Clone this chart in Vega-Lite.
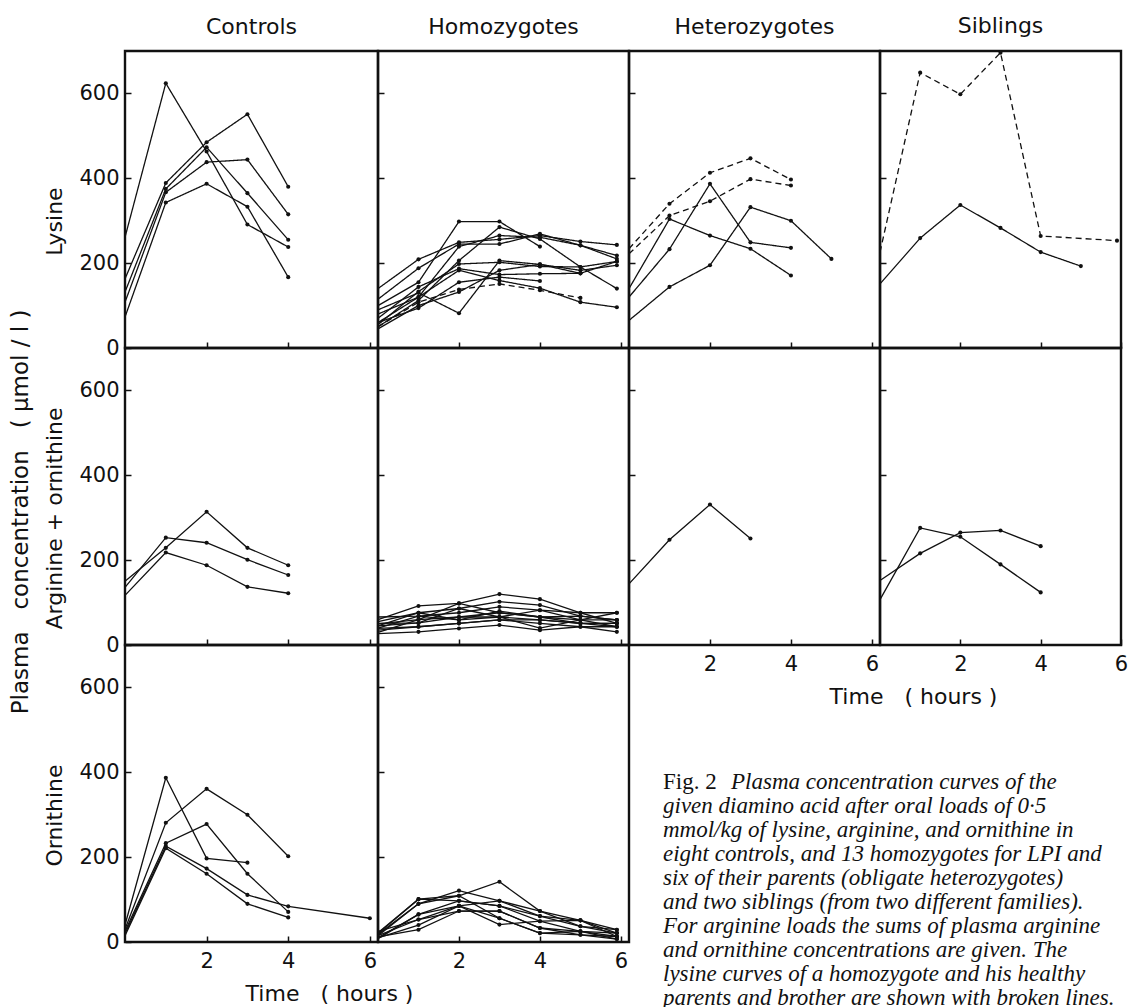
{
  "$schema": "https://vega.github.io/schema/vega-lite/v6.json",
  "background": "white",
  "padding": {"left": 9, "top": 13, "right": 0, "bottom": 0},
  "title": {"text": "Plasma\u00a0\u00a0\u00a0concentration\u00a0\u00a0\u00a0(\u00a0μmol\u00a0/\u00a0l\u00a0)", "orient": "left", "anchor": "middle", "fontSize": 23, "fontWeight": "normal", "font": "DejaVu Sans", "color": "#111", "offset": 10},
  "config": {
    "font": "DejaVu Sans",
    "view": {"stroke": "#111", "strokeWidth": 2.4},
    "title": {"fontSize": 22, "fontWeight": "normal", "color": "#111", "offset": 12},
    "axis": {"domain": false, "grid": false, "ticks": true, "tickColor": "#111", "tickWidth": 1.5, "tickSize": -6, "labelFontSize": 21, "labelColor": "#111", "labelFlush": false, "labelOverlap": false, "titleFontSize": 22, "titleFontWeight": "normal", "titleColor": "#111"},
    "axisX": {"labelPadding": 14, "titlePadding": 12},
    "axisY": {"labelPadding": 12, "titlePadding": 12}
  },
  "datasets": {
    "pts": [
      {"panel":"CL","id":"C1","dash":"solid","hour":0,"value":261},{"panel":"CL","id":"C1","dash":"solid","hour":1,"value":624},{"panel":"CL","id":"C1","dash":"solid","hour":2,"value":463},{"panel":"CL","id":"C1","dash":"solid","hour":3,"value":291},{"panel":"CL","id":"C1","dash":"solid","hour":4,"value":238},
      {"panel":"CL","id":"C2","dash":"solid","hour":0,"value":163},{"panel":"CL","id":"C2","dash":"solid","hour":1,"value":389},{"panel":"CL","id":"C2","dash":"solid","hour":2,"value":485},{"panel":"CL","id":"C2","dash":"solid","hour":3,"value":551},{"panel":"CL","id":"C2","dash":"solid","hour":4,"value":380},
      {"panel":"CL","id":"C3","dash":"solid","hour":0,"value":132},{"panel":"CL","id":"C3","dash":"solid","hour":1,"value":375},{"panel":"CL","id":"C3","dash":"solid","hour":2,"value":473},{"panel":"CL","id":"C3","dash":"solid","hour":3,"value":365},{"panel":"CL","id":"C3","dash":"solid","hour":4,"value":255},
      {"panel":"CL","id":"C4","dash":"solid","hour":0,"value":108},{"panel":"CL","id":"C4","dash":"solid","hour":1,"value":367},{"panel":"CL","id":"C4","dash":"solid","hour":2,"value":438},{"panel":"CL","id":"C4","dash":"solid","hour":3,"value":444},{"panel":"CL","id":"C4","dash":"solid","hour":4,"value":315},
      {"panel":"CL","id":"C5","dash":"solid","hour":0,"value":73},{"panel":"CL","id":"C5","dash":"solid","hour":1,"value":343},{"panel":"CL","id":"C5","dash":"solid","hour":2,"value":387},{"panel":"CL","id":"C5","dash":"solid","hour":3,"value":333},{"panel":"CL","id":"C5","dash":"solid","hour":4,"value":167},

      {"panel":"HL","id":"H1","dash":"solid","hour":0,"value":140},{"panel":"HL","id":"H1","dash":"solid","hour":1,"value":209},{"panel":"HL","id":"H1","dash":"solid","hour":2,"value":249},{"panel":"HL","id":"H1","dash":"solid","hour":3,"value":256},{"panel":"HL","id":"H1","dash":"solid","hour":4,"value":265},{"panel":"HL","id":"H1","dash":"solid","hour":5,"value":251},{"panel":"HL","id":"H1","dash":"solid","hour":5.9,"value":243},
      {"panel":"HL","id":"H2","dash":"solid","hour":0,"value":115},{"panel":"HL","id":"H2","dash":"solid","hour":1,"value":188},{"panel":"HL","id":"H2","dash":"solid","hour":2,"value":245},{"panel":"HL","id":"H2","dash":"solid","hour":3,"value":245},{"panel":"HL","id":"H2","dash":"solid","hour":4,"value":269},{"panel":"HL","id":"H2","dash":"solid","hour":5,"value":242},{"panel":"HL","id":"H2","dash":"solid","hour":5.9,"value":210},
      {"panel":"HL","id":"H3","dash":"solid","hour":0,"value":100},{"panel":"HL","id":"H3","dash":"solid","hour":1,"value":155},{"panel":"HL","id":"H3","dash":"solid","hour":2,"value":298},{"panel":"HL","id":"H3","dash":"solid","hour":3,"value":298},{"panel":"HL","id":"H3","dash":"solid","hour":4,"value":239},
      {"panel":"HL","id":"H4","dash":"solid","hour":0,"value":60},{"panel":"HL","id":"H4","dash":"solid","hour":1,"value":120},{"panel":"HL","id":"H4","dash":"solid","hour":2,"value":239},{"panel":"HL","id":"H4","dash":"solid","hour":3,"value":265},{"panel":"HL","id":"H4","dash":"solid","hour":4,"value":261},{"panel":"HL","id":"H4","dash":"solid","hour":5,"value":242},{"panel":"HL","id":"H4","dash":"solid","hour":5.9,"value":218},
      {"panel":"HL","id":"H5","dash":"solid","hour":0,"value":50},{"panel":"HL","id":"H5","dash":"solid","hour":1,"value":112},{"panel":"HL","id":"H5","dash":"solid","hour":2,"value":206},{"panel":"HL","id":"H5","dash":"solid","hour":3,"value":285},{"panel":"HL","id":"H5","dash":"solid","hour":4,"value":257},{"panel":"HL","id":"H5","dash":"solid","hour":5,"value":191},{"panel":"HL","id":"H5","dash":"solid","hour":5.9,"value":140},
      {"panel":"HL","id":"H6","dash":"solid","hour":0,"value":90},{"panel":"HL","id":"H6","dash":"solid","hour":1,"value":130},{"panel":"HL","id":"H6","dash":"solid","hour":2,"value":82},{"panel":"HL","id":"H6","dash":"solid","hour":3,"value":206},{"panel":"HL","id":"H6","dash":"solid","hour":4,"value":197},{"panel":"HL","id":"H6","dash":"solid","hour":5,"value":183},{"panel":"HL","id":"H6","dash":"solid","hour":5.9,"value":195},
      {"panel":"HL","id":"H7","dash":"solid","hour":0,"value":55},{"panel":"HL","id":"H7","dash":"solid","hour":1,"value":133},{"panel":"HL","id":"H7","dash":"solid","hour":2,"value":198},{"panel":"HL","id":"H7","dash":"solid","hour":3,"value":202},{"panel":"HL","id":"H7","dash":"solid","hour":4,"value":192},{"panel":"HL","id":"H7","dash":"solid","hour":5,"value":191},{"panel":"HL","id":"H7","dash":"solid","hour":5.9,"value":204},
      {"panel":"HL","id":"H8","dash":"solid","hour":0,"value":70},{"panel":"HL","id":"H8","dash":"solid","hour":1,"value":144},{"panel":"HL","id":"H8","dash":"solid","hour":2,"value":187},{"panel":"HL","id":"H8","dash":"solid","hour":3,"value":173},{"panel":"HL","id":"H8","dash":"solid","hour":4,"value":175},{"panel":"HL","id":"H8","dash":"solid","hour":5,"value":176},
      {"panel":"HL","id":"H9","dash":"solid","hour":0,"value":80},{"panel":"HL","id":"H9","dash":"solid","hour":1,"value":120},{"panel":"HL","id":"H9","dash":"solid","hour":2,"value":183},{"panel":"HL","id":"H9","dash":"solid","hour":3,"value":159},{"panel":"HL","id":"H9","dash":"solid","hour":4,"value":141},{"panel":"HL","id":"H9","dash":"solid","hour":5,"value":108},{"panel":"HL","id":"H9","dash":"solid","hour":5.9,"value":96},
      {"panel":"HL","id":"H10","dash":"solid","hour":0,"value":60},{"panel":"HL","id":"H10","dash":"solid","hour":1,"value":94},{"panel":"HL","id":"H10","dash":"solid","hour":2,"value":155},{"panel":"HL","id":"H10","dash":"solid","hour":3,"value":167},{"panel":"HL","id":"H10","dash":"solid","hour":4,"value":158},
      {"panel":"HL","id":"H11","dash":"broken","hour":0,"value":50},{"panel":"HL","id":"H11","dash":"broken","hour":1,"value":108},{"panel":"HL","id":"H11","dash":"broken","hour":2,"value":138},{"panel":"HL","id":"H11","dash":"broken","hour":3,"value":151},{"panel":"HL","id":"H11","dash":"broken","hour":4,"value":136},{"panel":"HL","id":"H11","dash":"broken","hour":5,"value":118},
      {"panel":"HL","id":"H12","dash":"solid","hour":0,"value":45},{"panel":"HL","id":"H12","dash":"solid","hour":1,"value":100},{"panel":"HL","id":"H12","dash":"solid","hour":2,"value":132},{"panel":"HL","id":"H12","dash":"solid","hour":3,"value":183},{"panel":"HL","id":"H12","dash":"solid","hour":4,"value":197},{"panel":"HL","id":"H12","dash":"solid","hour":5,"value":176},{"panel":"HL","id":"H12","dash":"solid","hour":5.9,"value":204},

      {"panel":"EL","id":"E1","dash":"broken","hour":0,"value":234},{"panel":"EL","id":"E1","dash":"broken","hour":1,"value":340},{"panel":"EL","id":"E1","dash":"broken","hour":2,"value":413},{"panel":"EL","id":"E1","dash":"broken","hour":3,"value":447},{"panel":"EL","id":"E1","dash":"broken","hour":4,"value":397},
      {"panel":"EL","id":"E2","dash":"broken","hour":0,"value":222},{"panel":"EL","id":"E2","dash":"broken","hour":1,"value":312},{"panel":"EL","id":"E2","dash":"broken","hour":2,"value":346},{"panel":"EL","id":"E2","dash":"broken","hour":3,"value":398},{"panel":"EL","id":"E2","dash":"broken","hour":4,"value":383},
      {"panel":"EL","id":"E3","dash":"solid","hour":0,"value":140},{"panel":"EL","id":"E3","dash":"solid","hour":1,"value":304},{"panel":"EL","id":"E3","dash":"solid","hour":2,"value":265},{"panel":"EL","id":"E3","dash":"solid","hour":3,"value":234},{"panel":"EL","id":"E3","dash":"solid","hour":4,"value":171},
      {"panel":"EL","id":"E4","dash":"solid","hour":0,"value":120},{"panel":"EL","id":"E4","dash":"solid","hour":1,"value":233},{"panel":"EL","id":"E4","dash":"solid","hour":2,"value":387},{"panel":"EL","id":"E4","dash":"solid","hour":3,"value":249},{"panel":"EL","id":"E4","dash":"solid","hour":4,"value":236},
      {"panel":"EL","id":"E5","dash":"solid","hour":0,"value":65},{"panel":"EL","id":"E5","dash":"solid","hour":1,"value":144},{"panel":"EL","id":"E5","dash":"solid","hour":2,"value":195},{"panel":"EL","id":"E5","dash":"solid","hour":3,"value":332},{"panel":"EL","id":"E5","dash":"solid","hour":4,"value":300},{"panel":"EL","id":"E5","dash":"solid","hour":5,"value":210},

      {"panel":"SL","id":"S1","dash":"broken","hour":0,"value":226},{"panel":"SL","id":"S1","dash":"broken","hour":1,"value":649},{"panel":"SL","id":"S1","dash":"broken","hour":2,"value":598},{"panel":"SL","id":"S1","dash":"broken","hour":3,"value":696},{"panel":"SL","id":"S1","dash":"broken","hour":4,"value":264},{"panel":"SL","id":"S1","dash":"broken","hour":5.9,"value":253},
      {"panel":"SL","id":"S2","dash":"solid","hour":0,"value":151},{"panel":"SL","id":"S2","dash":"solid","hour":1,"value":259},{"panel":"SL","id":"S2","dash":"solid","hour":2,"value":337},{"panel":"SL","id":"S2","dash":"solid","hour":3,"value":283},{"panel":"SL","id":"S2","dash":"solid","hour":4,"value":226},{"panel":"SL","id":"S2","dash":"solid","hour":5,"value":193},

      {"panel":"CA","id":"A1","dash":"solid","hour":0,"value":150},{"panel":"CA","id":"A1","dash":"solid","hour":1,"value":229},{"panel":"CA","id":"A1","dash":"solid","hour":2,"value":314},{"panel":"CA","id":"A1","dash":"solid","hour":3,"value":229},{"panel":"CA","id":"A1","dash":"solid","hour":4,"value":188},
      {"panel":"CA","id":"A2","dash":"solid","hour":0,"value":136},{"panel":"CA","id":"A2","dash":"solid","hour":1,"value":253},{"panel":"CA","id":"A2","dash":"solid","hour":2,"value":241},{"panel":"CA","id":"A2","dash":"solid","hour":3,"value":201},{"panel":"CA","id":"A2","dash":"solid","hour":4,"value":165},
      {"panel":"CA","id":"A3","dash":"solid","hour":0,"value":117},{"panel":"CA","id":"A3","dash":"solid","hour":1,"value":218},{"panel":"CA","id":"A3","dash":"solid","hour":2,"value":188},{"panel":"CA","id":"A3","dash":"solid","hour":3,"value":137},{"panel":"CA","id":"A3","dash":"solid","hour":4,"value":122},

      {"panel":"HA","id":"B1","dash":"solid","hour":0,"value":60},{"panel":"HA","id":"B1","dash":"solid","hour":1,"value":92},{"panel":"HA","id":"B1","dash":"solid","hour":2,"value":98},{"panel":"HA","id":"B1","dash":"solid","hour":3,"value":120},{"panel":"HA","id":"B1","dash":"solid","hour":4,"value":108},{"panel":"HA","id":"B1","dash":"solid","hour":5,"value":76},{"panel":"HA","id":"B1","dash":"solid","hour":5.9,"value":76},
      {"panel":"HA","id":"B2","dash":"solid","hour":0,"value":55},{"panel":"HA","id":"B2","dash":"solid","hour":1,"value":76},{"panel":"HA","id":"B2","dash":"solid","hour":2,"value":86},{"panel":"HA","id":"B2","dash":"solid","hour":3,"value":102},{"panel":"HA","id":"B2","dash":"solid","hour":4,"value":94},{"panel":"HA","id":"B2","dash":"solid","hour":5,"value":68},{"panel":"HA","id":"B2","dash":"solid","hour":5.9,"value":59},
      {"panel":"HA","id":"B3","dash":"solid","hour":0,"value":66},{"panel":"HA","id":"B3","dash":"solid","hour":1,"value":68},{"panel":"HA","id":"B3","dash":"solid","hour":2,"value":76},{"panel":"HA","id":"B3","dash":"solid","hour":3,"value":90},{"panel":"HA","id":"B3","dash":"solid","hour":4,"value":82},{"panel":"HA","id":"B3","dash":"solid","hour":5,"value":76},{"panel":"HA","id":"B3","dash":"solid","hour":5.9,"value":51},
      {"panel":"HA","id":"B4","dash":"solid","hour":0,"value":50},{"panel":"HA","id":"B4","dash":"solid","hour":1,"value":60},{"panel":"HA","id":"B4","dash":"solid","hour":2,"value":98},{"panel":"HA","id":"B4","dash":"solid","hour":3,"value":76},{"panel":"HA","id":"B4","dash":"solid","hour":4,"value":66},{"panel":"HA","id":"B4","dash":"solid","hour":5,"value":59},{"panel":"HA","id":"B4","dash":"solid","hour":5.9,"value":76},
      {"panel":"HA","id":"B5","dash":"solid","hour":0,"value":45},{"panel":"HA","id":"B5","dash":"solid","hour":1,"value":52},{"panel":"HA","id":"B5","dash":"solid","hour":2,"value":66},{"panel":"HA","id":"B5","dash":"solid","hour":3,"value":66},{"panel":"HA","id":"B5","dash":"solid","hour":4,"value":59},{"panel":"HA","id":"B5","dash":"solid","hour":5,"value":51},{"panel":"HA","id":"B5","dash":"solid","hour":5.9,"value":43},
      {"panel":"HA","id":"B6","dash":"solid","hour":0,"value":40},{"panel":"HA","id":"B6","dash":"solid","hour":1,"value":68},{"panel":"HA","id":"B6","dash":"solid","hour":2,"value":59},{"panel":"HA","id":"B6","dash":"solid","hour":3,"value":80},{"panel":"HA","id":"B6","dash":"solid","hour":4,"value":66},{"panel":"HA","id":"B6","dash":"solid","hour":5,"value":68},{"panel":"HA","id":"B6","dash":"solid","hour":5.9,"value":59},
      {"panel":"HA","id":"B7","dash":"solid","hour":0,"value":35},{"panel":"HA","id":"B7","dash":"solid","hour":1,"value":43},{"panel":"HA","id":"B7","dash":"solid","hour":2,"value":51},{"panel":"HA","id":"B7","dash":"solid","hour":3,"value":59},{"panel":"HA","id":"B7","dash":"solid","hour":4,"value":51},{"panel":"HA","id":"B7","dash":"solid","hour":5,"value":43},{"panel":"HA","id":"B7","dash":"solid","hour":5.9,"value":43},
      {"panel":"HA","id":"B8","dash":"solid","hour":0,"value":30},{"panel":"HA","id":"B8","dash":"solid","hour":1,"value":60},{"panel":"HA","id":"B8","dash":"solid","hour":2,"value":66},{"panel":"HA","id":"B8","dash":"solid","hour":3,"value":76},{"panel":"HA","id":"B8","dash":"solid","hour":4,"value":66},{"panel":"HA","id":"B8","dash":"solid","hour":5,"value":51},{"panel":"HA","id":"B8","dash":"solid","hour":5.9,"value":51},
      {"panel":"HA","id":"B9","dash":"solid","hour":0,"value":27},{"panel":"HA","id":"B9","dash":"solid","hour":1,"value":31},{"panel":"HA","id":"B9","dash":"solid","hour":2,"value":39},{"panel":"HA","id":"B9","dash":"solid","hour":3,"value":47},{"panel":"HA","id":"B9","dash":"solid","hour":4,"value":35},{"panel":"HA","id":"B9","dash":"solid","hour":5,"value":43},{"panel":"HA","id":"B9","dash":"solid","hour":5.9,"value":31},
      {"panel":"HA","id":"B10","dash":"solid","hour":0,"value":51},{"panel":"HA","id":"B10","dash":"solid","hour":1,"value":52},{"panel":"HA","id":"B10","dash":"solid","hour":2,"value":86},{"panel":"HA","id":"B10","dash":"solid","hour":3,"value":66},{"panel":"HA","id":"B10","dash":"solid","hour":4,"value":82},{"panel":"HA","id":"B10","dash":"solid","hour":5,"value":59},{"panel":"HA","id":"B10","dash":"solid","hour":5.9,"value":43},
      {"panel":"HA","id":"B11","dash":"solid","hour":0,"value":39},{"panel":"HA","id":"B11","dash":"solid","hour":1,"value":43},{"panel":"HA","id":"B11","dash":"solid","hour":2,"value":51},{"panel":"HA","id":"B11","dash":"solid","hour":3,"value":59},{"panel":"HA","id":"B11","dash":"solid","hour":4,"value":59},{"panel":"HA","id":"B11","dash":"solid","hour":5,"value":51},{"panel":"HA","id":"B11","dash":"solid","hour":5.9,"value":51},
      {"panel":"HA","id":"B12","dash":"solid","hour":0,"value":45},{"panel":"HA","id":"B12","dash":"solid","hour":1,"value":76},{"panel":"HA","id":"B12","dash":"solid","hour":2,"value":59},{"panel":"HA","id":"B12","dash":"solid","hour":3,"value":66},{"panel":"HA","id":"B12","dash":"solid","hour":4,"value":40},{"panel":"HA","id":"B12","dash":"solid","hour":5,"value":59},{"panel":"HA","id":"B12","dash":"solid","hour":5.9,"value":59},

      {"panel":"EA","id":"F1","dash":"solid","hour":0,"value":144},{"panel":"EA","id":"F1","dash":"solid","hour":1,"value":248},{"panel":"EA","id":"F1","dash":"solid","hour":2,"value":331},{"panel":"EA","id":"F1","dash":"solid","hour":3,"value":251},

      {"panel":"SA","id":"G1","dash":"solid","hour":0,"value":152},{"panel":"SA","id":"G1","dash":"solid","hour":1,"value":216},{"panel":"SA","id":"G1","dash":"solid","hour":2,"value":265},{"panel":"SA","id":"G1","dash":"solid","hour":3,"value":270},{"panel":"SA","id":"G1","dash":"solid","hour":4,"value":233},
      {"panel":"SA","id":"G2","dash":"solid","hour":0,"value":107},{"panel":"SA","id":"G2","dash":"solid","hour":1,"value":276},{"panel":"SA","id":"G2","dash":"solid","hour":2,"value":255},{"panel":"SA","id":"G2","dash":"solid","hour":3,"value":190},{"panel":"SA","id":"G2","dash":"solid","hour":4,"value":124},

      {"panel":"CO","id":"K1","dash":"solid","hour":0,"value":40},{"panel":"CO","id":"K1","dash":"solid","hour":1,"value":387},{"panel":"CO","id":"K1","dash":"solid","hour":2,"value":197},{"panel":"CO","id":"K1","dash":"solid","hour":3,"value":187},
      {"panel":"CO","id":"K2","dash":"solid","hour":0,"value":30},{"panel":"CO","id":"K2","dash":"solid","hour":1,"value":281},{"panel":"CO","id":"K2","dash":"solid","hour":2,"value":361},{"panel":"CO","id":"K2","dash":"solid","hour":3,"value":300},{"panel":"CO","id":"K2","dash":"solid","hour":4,"value":202},
      {"panel":"CO","id":"K3","dash":"solid","hour":0,"value":25},{"panel":"CO","id":"K3","dash":"solid","hour":1,"value":233},{"panel":"CO","id":"K3","dash":"solid","hour":2,"value":278},{"panel":"CO","id":"K3","dash":"solid","hour":3,"value":161},{"panel":"CO","id":"K3","dash":"solid","hour":4,"value":71},
      {"panel":"CO","id":"K4","dash":"solid","hour":0,"value":20},{"panel":"CO","id":"K4","dash":"solid","hour":1,"value":226},{"panel":"CO","id":"K4","dash":"solid","hour":2,"value":173},{"panel":"CO","id":"K4","dash":"solid","hour":3,"value":111},{"panel":"CO","id":"K4","dash":"solid","hour":4,"value":84},{"panel":"CO","id":"K4","dash":"solid","hour":6,"value":56},
      {"panel":"CO","id":"K5","dash":"solid","hour":0,"value":15},{"panel":"CO","id":"K5","dash":"solid","hour":1,"value":221},{"panel":"CO","id":"K5","dash":"solid","hour":2,"value":161},{"panel":"CO","id":"K5","dash":"solid","hour":3,"value":90},{"panel":"CO","id":"K5","dash":"solid","hour":4,"value":58},

      {"panel":"HO","id":"M1","dash":"solid","hour":0,"value":20},{"panel":"HO","id":"M1","dash":"solid","hour":1,"value":101},{"panel":"HO","id":"M1","dash":"solid","hour":2,"value":109},{"panel":"HO","id":"M1","dash":"solid","hour":3,"value":142},{"panel":"HO","id":"M1","dash":"solid","hour":4,"value":73},{"panel":"HO","id":"M1","dash":"solid","hour":5,"value":51},{"panel":"HO","id":"M1","dash":"solid","hour":5.9,"value":29},
      {"panel":"HO","id":"M2","dash":"solid","hour":0,"value":15},{"panel":"HO","id":"M2","dash":"solid","hour":1,"value":90},{"panel":"HO","id":"M2","dash":"solid","hour":2,"value":121},{"panel":"HO","id":"M2","dash":"solid","hour":3,"value":97},{"panel":"HO","id":"M2","dash":"solid","hour":4,"value":61},{"panel":"HO","id":"M2","dash":"solid","hour":5,"value":37},{"panel":"HO","id":"M2","dash":"solid","hour":5.9,"value":21},
      {"panel":"HO","id":"M3","dash":"solid","hour":0,"value":10},{"panel":"HO","id":"M3","dash":"solid","hour":1,"value":65},{"panel":"HO","id":"M3","dash":"solid","hour":2,"value":97},{"panel":"HO","id":"M3","dash":"solid","hour":3,"value":85},{"panel":"HO","id":"M3","dash":"solid","hour":4,"value":49},{"panel":"HO","id":"M3","dash":"solid","hour":5,"value":51},{"panel":"HO","id":"M3","dash":"solid","hour":5.9,"value":13},
      {"panel":"HO","id":"M4","dash":"solid","hour":0,"value":25},{"panel":"HO","id":"M4","dash":"solid","hour":1,"value":53},{"panel":"HO","id":"M4","dash":"solid","hour":2,"value":85},{"panel":"HO","id":"M4","dash":"solid","hour":3,"value":97},{"panel":"HO","id":"M4","dash":"solid","hour":4,"value":73},{"panel":"HO","id":"M4","dash":"solid","hour":5,"value":37},{"panel":"HO","id":"M4","dash":"solid","hour":5.9,"value":29},
      {"panel":"HO","id":"M5","dash":"solid","hour":0,"value":12},{"panel":"HO","id":"M5","dash":"solid","hour":1,"value":29},{"panel":"HO","id":"M5","dash":"solid","hour":2,"value":73},{"panel":"HO","id":"M5","dash":"solid","hour":3,"value":73},{"panel":"HO","id":"M5","dash":"solid","hour":4,"value":33},{"panel":"HO","id":"M5","dash":"solid","hour":5,"value":25},{"panel":"HO","id":"M5","dash":"solid","hour":5.9,"value":7},
      {"panel":"HO","id":"M6","dash":"solid","hour":0,"value":18},{"panel":"HO","id":"M6","dash":"solid","hour":1,"value":90},{"panel":"HO","id":"M6","dash":"solid","hour":2,"value":109},{"panel":"HO","id":"M6","dash":"solid","hour":3,"value":56},{"panel":"HO","id":"M6","dash":"solid","hour":4,"value":21},{"panel":"HO","id":"M6","dash":"solid","hour":5,"value":17},{"panel":"HO","id":"M6","dash":"solid","hour":5.9,"value":13},
      {"panel":"HO","id":"M7","dash":"solid","hour":0,"value":8},{"panel":"HO","id":"M7","dash":"solid","hour":1,"value":65},{"panel":"HO","id":"M7","dash":"solid","hour":2,"value":85},{"panel":"HO","id":"M7","dash":"solid","hour":3,"value":41},{"panel":"HO","id":"M7","dash":"solid","hour":4,"value":49},{"panel":"HO","id":"M7","dash":"solid","hour":5,"value":25},{"panel":"HO","id":"M7","dash":"solid","hour":5.9,"value":21},
      {"panel":"HO","id":"M8","dash":"solid","hour":0,"value":22},{"panel":"HO","id":"M8","dash":"solid","hour":1,"value":101},{"panel":"HO","id":"M8","dash":"solid","hour":2,"value":97},{"panel":"HO","id":"M8","dash":"solid","hour":3,"value":85},{"panel":"HO","id":"M8","dash":"solid","hour":4,"value":61},{"panel":"HO","id":"M8","dash":"solid","hour":5,"value":51},{"panel":"HO","id":"M8","dash":"solid","hour":5.9,"value":21},
      {"panel":"HO","id":"M9","dash":"solid","hour":0,"value":15},{"panel":"HO","id":"M9","dash":"solid","hour":1,"value":53},{"panel":"HO","id":"M9","dash":"solid","hour":2,"value":73},{"panel":"HO","id":"M9","dash":"solid","hour":3,"value":73},{"panel":"HO","id":"M9","dash":"solid","hour":4,"value":33},{"panel":"HO","id":"M9","dash":"solid","hour":5,"value":17},{"panel":"HO","id":"M9","dash":"solid","hour":5.9,"value":7},
      {"panel":"HO","id":"M10","dash":"solid","hour":0,"value":10},{"panel":"HO","id":"M10","dash":"solid","hour":1,"value":40},{"panel":"HO","id":"M10","dash":"solid","hour":2,"value":85},{"panel":"HO","id":"M10","dash":"solid","hour":3,"value":56},{"panel":"HO","id":"M10","dash":"solid","hour":4,"value":21},{"panel":"HO","id":"M10","dash":"solid","hour":5,"value":25},{"panel":"HO","id":"M10","dash":"solid","hour":5.9,"value":13}
    ],
    "caption": [
      {"line": 1, "part": "label", "text": "Fig. 2"},
      {"line": 1, "part": "body", "text": "Plasma concentration curves of the"},
      {"line": 2, "part": "body", "text": "given diamino acid after oral loads of 0·5"},
      {"line": 3, "part": "body", "text": "mmol/kg of lysine, arginine, and ornithine in"},
      {"line": 4, "part": "body", "text": "eight controls, and 13 homozygotes for LPI and"},
      {"line": 5, "part": "body", "text": "six of their parents (obligate heterozygotes)"},
      {"line": 6, "part": "body", "text": "and two siblings (from two different families)."},
      {"line": 7, "part": "body", "text": "For arginine loads the sums of plasma arginine"},
      {"line": 8, "part": "body", "text": "and ornithine concentrations are given. The"},
      {"line": 9, "part": "body", "text": "lysine curves of a homozygote and his healthy"},
      {"line": 10, "part": "body", "text": "parents and brother are shown with broken lines."}
    ]
  },
  "data": {"name": "pts"},
  "columns": 4,
  "spacing": 0,
  "bounds": "flush",
  "concat": [
    {"width": 253, "height": 297, "title": "Controls", "transform": [{"filter": "datum.panel === 'CL'"}],
     "encoding": {"x": {"field": "hour", "type": "quantitative", "scale": {"domain": [0, 6.2], "nice": false}, "axis": {"values": [2, 4, 6], "labels": false, "title": null}},
                  "y": {"field": "value", "type": "quantitative", "scale": {"domain": [0, 700], "nice": false}, "axis": {"values": [0, 200, 400, 600], "title": "Lysine", "titleY": 170}}},
     "layer": [
       {"mark": {"type": "line", "color": "#111", "strokeWidth": 1.3}, "encoding": {"detail": {"field": "id"}, "strokeDash": {"field": "dash", "type": "nominal", "scale": {"domain": ["solid", "broken"], "range": [[1, 0], [6, 4]]}, "legend": null}}},
       {"transform": [{"filter": "datum.hour > 0"}], "mark": {"type": "circle", "color": "#111", "size": 17, "opacity": 1}}
     ]},
    {"width": 251, "height": 297, "title": "Homozygotes", "transform": [{"filter": "datum.panel === 'HL'"}],
     "encoding": {"x": {"field": "hour", "type": "quantitative", "scale": {"domain": [0, 6.2], "nice": false}, "axis": {"values": [2, 4, 6], "labels": false, "title": null}},
                  "y": {"field": "value", "type": "quantitative", "scale": {"domain": [0, 700], "nice": false}, "axis": {"values": [200, 400, 600], "labels": false, "title": null}}},
     "layer": [
       {"mark": {"type": "line", "color": "#111", "strokeWidth": 1.3}, "encoding": {"detail": {"field": "id"}, "strokeDash": {"field": "dash", "type": "nominal", "scale": {"domain": ["solid", "broken"], "range": [[1, 0], [6, 4]]}, "legend": null}}},
       {"transform": [{"filter": "datum.hour > 0"}], "mark": {"type": "circle", "color": "#111", "size": 17, "opacity": 1}}
     ]},
    {"width": 251, "height": 297, "title": "Heterozygotes", "transform": [{"filter": "datum.panel === 'EL'"}],
     "encoding": {"x": {"field": "hour", "type": "quantitative", "scale": {"domain": [0, 6.2], "nice": false}, "axis": {"values": [2, 4, 6], "labels": false, "title": null}},
                  "y": {"field": "value", "type": "quantitative", "scale": {"domain": [0, 700], "nice": false}, "axis": {"values": [200, 400, 600], "labels": false, "title": null}}},
     "layer": [
       {"mark": {"type": "line", "color": "#111", "strokeWidth": 1.3}, "encoding": {"detail": {"field": "id"}, "strokeDash": {"field": "dash", "type": "nominal", "scale": {"domain": ["solid", "broken"], "range": [[1, 0], [6, 4]]}, "legend": null}}},
       {"transform": [{"filter": "datum.hour > 0"}], "mark": {"type": "circle", "color": "#111", "size": 17, "opacity": 1}}
     ]},
    {"width": 241, "height": 297, "title": "Siblings", "transform": [{"filter": "datum.panel === 'SL'"}],
     "encoding": {"x": {"field": "hour", "type": "quantitative", "scale": {"domain": [0, 6.0], "nice": false}, "axis": {"values": [2, 4, 6], "labels": false, "title": null}},
                  "y": {"field": "value", "type": "quantitative", "scale": {"domain": [0, 700], "nice": false}, "axis": {"values": [200, 400, 600], "labels": false, "title": null}}},
     "layer": [
       {"mark": {"type": "line", "color": "#111", "strokeWidth": 1.3}, "encoding": {"detail": {"field": "id"}, "strokeDash": {"field": "dash", "type": "nominal", "scale": {"domain": ["solid", "broken"], "range": [[1, 0], [6, 4]]}, "legend": null}}},
       {"transform": [{"filter": "datum.hour > 0"}], "mark": {"type": "circle", "color": "#111", "size": 17, "opacity": 1}}
     ]},
    {"width": 253, "height": 297, "transform": [{"filter": "datum.panel === 'CA'"}],
     "encoding": {"x": {"field": "hour", "type": "quantitative", "scale": {"domain": [0, 6.2], "nice": false}, "axis": {"values": [2, 4, 6], "labels": false, "title": null}},
                  "y": {"field": "value", "type": "quantitative", "scale": {"domain": [0, 700], "nice": false}, "axis": {"values": [0, 200, 400, 600], "title": "Arginine + ornithine", "titleY": 170}}},
     "layer": [
       {"mark": {"type": "line", "color": "#111", "strokeWidth": 1.3}, "encoding": {"detail": {"field": "id"}}},
       {"transform": [{"filter": "datum.hour > 0"}], "mark": {"type": "circle", "color": "#111", "size": 17, "opacity": 1}}
     ]},
    {"width": 251, "height": 297, "transform": [{"filter": "datum.panel === 'HA'"}],
     "encoding": {"x": {"field": "hour", "type": "quantitative", "scale": {"domain": [0, 6.2], "nice": false}, "axis": {"values": [2, 4, 6], "labels": false, "title": null}},
                  "y": {"field": "value", "type": "quantitative", "scale": {"domain": [0, 700], "nice": false}, "axis": {"values": [200, 400, 600], "labels": false, "title": null}}},
     "layer": [
       {"mark": {"type": "line", "color": "#111", "strokeWidth": 1.3}, "encoding": {"detail": {"field": "id"}}},
       {"transform": [{"filter": "datum.hour > 0"}], "mark": {"type": "circle", "color": "#111", "size": 17, "opacity": 1}}
     ]},
    {"width": 251, "height": 297, "transform": [{"filter": "datum.panel === 'EA'"}],
     "encoding": {"x": {"field": "hour", "type": "quantitative", "scale": {"domain": [0, 6.2], "nice": false}, "axis": {"values": [2, 4, 6], "title": "Time\u00a0\u00a0\u00a0(\u00a0hours\u00a0)", "titleX": 284}},
                  "y": {"field": "value", "type": "quantitative", "scale": {"domain": [0, 700], "nice": false}, "axis": {"values": [200, 400, 600], "labels": false, "title": null}}},
     "layer": [
       {"mark": {"type": "line", "color": "#111", "strokeWidth": 1.3}, "encoding": {"detail": {"field": "id"}}},
       {"transform": [{"filter": "datum.hour > 0"}], "mark": {"type": "circle", "color": "#111", "size": 17, "opacity": 1}}
     ]},
    {"width": 241, "height": 297, "transform": [{"filter": "datum.panel === 'SA'"}],
     "encoding": {"x": {"field": "hour", "type": "quantitative", "scale": {"domain": [0, 6.0], "nice": false}, "axis": {"values": [2, 4, 6], "title": null}},
                  "y": {"field": "value", "type": "quantitative", "scale": {"domain": [0, 700], "nice": false}, "axis": {"values": [200, 400, 600], "labels": false, "title": null}}},
     "layer": [
       {"mark": {"type": "line", "color": "#111", "strokeWidth": 1.3}, "encoding": {"detail": {"field": "id"}}},
       {"transform": [{"filter": "datum.hour > 0"}], "mark": {"type": "circle", "color": "#111", "size": 17, "opacity": 1}}
     ]},
    {"width": 253, "height": 297, "transform": [{"filter": "datum.panel === 'CO'"}],
     "encoding": {"x": {"field": "hour", "type": "quantitative", "scale": {"domain": [0, 6.2], "nice": false}, "axis": {"values": [2, 4, 6], "title": "Time\u00a0\u00a0\u00a0(\u00a0hours\u00a0)", "titleX": 204}},
                  "y": {"field": "value", "type": "quantitative", "scale": {"domain": [0, 700], "nice": false}, "axis": {"values": [0, 200, 400, 600], "title": "Ornithine", "titleY": 170}}},
     "layer": [
       {"mark": {"type": "line", "color": "#111", "strokeWidth": 1.3}, "encoding": {"detail": {"field": "id"}}},
       {"transform": [{"filter": "datum.hour > 0"}], "mark": {"type": "circle", "color": "#111", "size": 17, "opacity": 1}}
     ]},
    {"width": 251, "height": 297, "transform": [{"filter": "datum.panel === 'HO'"}],
     "encoding": {"x": {"field": "hour", "type": "quantitative", "scale": {"domain": [0, 6.2], "nice": false}, "axis": {"values": [2, 4, 6], "title": null}},
                  "y": {"field": "value", "type": "quantitative", "scale": {"domain": [0, 700], "nice": false}, "axis": {"values": [200, 400, 600], "labels": false, "title": null}}},
     "layer": [
       {"mark": {"type": "line", "color": "#111", "strokeWidth": 1.3}, "encoding": {"detail": {"field": "id"}}},
       {"transform": [{"filter": "datum.hour > 0"}], "mark": {"type": "circle", "color": "#111", "size": 17, "opacity": 1}}
     ]},
    {"width": 251, "height": 297, "data": {"name": "caption"}, "view": {"stroke": null},
     "encoding": {"x": {"datum": 0, "type": "quantitative", "scale": {"domain": [0, 1]}, "axis": null},
                  "y": {"field": "line", "type": "quantitative", "scale": {"domain": [-5, 7.375], "reverse": true}, "axis": null}},
     "layer": [
       {"transform": [{"filter": "datum.part === 'label'"}], "mark": {"type": "text", "font": "Liberation Serif", "fontSize": 23, "align": "left", "baseline": "alphabetic", "color": "#111", "dx": 34}, "encoding": {"text": {"field": "text"}}},
       {"transform": [{"filter": "datum.part === 'body' && datum.line === 1"}], "mark": {"type": "text", "font": "Liberation Serif", "fontStyle": "italic", "fontSize": 23, "align": "left", "baseline": "alphabetic", "color": "#111", "dx": 102}, "encoding": {"text": {"field": "text"}}},
       {"transform": [{"filter": "datum.part === 'body' && datum.line > 1"}], "mark": {"type": "text", "font": "Liberation Serif", "fontStyle": "italic", "fontSize": 23, "align": "left", "baseline": "alphabetic", "color": "#111", "dx": 34}, "encoding": {"text": {"field": "text"}}}
     ]}
  ]
}
